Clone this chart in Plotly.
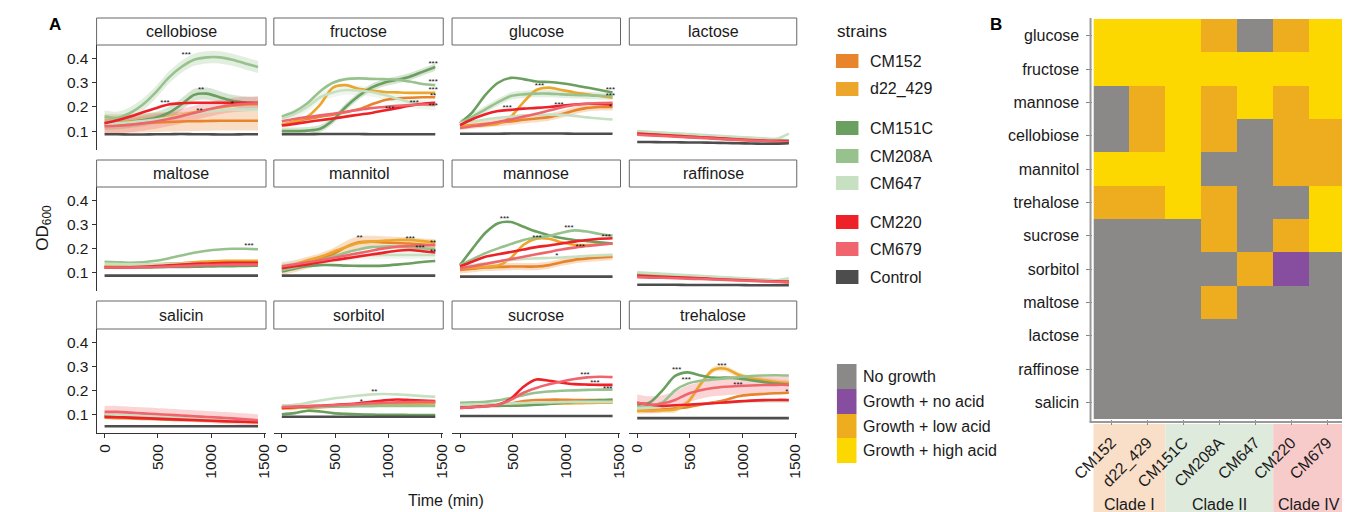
import plotly.graph_objects as go

# ---------------- DATA ----------------
TIME = [0, 120, 240, 360, 480, 600, 720, 840, 960, 1080, 1200, 1320, 1440]
STRAINS = ["CM152", "d22_429", "CM151C", "CM208A", "CM647", "CM220", "CM679", "Control"]
STRAIN_COLORS = ["#E8842C", "#EBA62B", "#6A9F5F", "#98C28D", "#C8E0C2", "#EE2129", "#F0656D", "#4D4D4D"]
PANEL_SUGARS = ["cellobiose", "fructose", "glucose", "lactose",
                "maltose", "mannitol", "mannose", "raffinose",
                "salicin", "sorbitol", "sucrose", "trehalose"]

cellobiose = [
    [0.13, 0.13, 0.132, 0.134, 0.136, 0.138, 0.14, 0.141, 0.142, 0.143, 0.143, 0.143, 0.143],
    [0.135, 0.137, 0.14, 0.145, 0.15, 0.158, 0.168, 0.178, 0.188, 0.198, 0.205, 0.21, 0.21],
    [0.13, 0.133, 0.138, 0.145, 0.155, 0.175, 0.21, 0.25, 0.255, 0.24, 0.225, 0.218, 0.215],
    [0.16, 0.155, 0.175, 0.21, 0.26, 0.32, 0.365, 0.395, 0.405, 0.405, 0.395, 0.38, 0.365],
    [0.13, 0.132, 0.137, 0.142, 0.148, 0.155, 0.165, 0.172, 0.18, 0.185, 0.19, 0.19, 0.19],
    [0.133, 0.145, 0.16, 0.178, 0.195, 0.21, 0.215, 0.217, 0.217, 0.217, 0.217, 0.217, 0.217],
    [0.12, 0.122, 0.126, 0.132, 0.14, 0.15, 0.162, 0.175, 0.188, 0.2, 0.208, 0.212, 0.215],
    [0.087, 0.087, 0.086, 0.086, 0.087, 0.087, 0.088, 0.087, 0.087, 0.086, 0.086, 0.087, 0.087],
]
fructose = [
    [0.125, 0.14, 0.15, 0.16, 0.168, 0.178, 0.19, 0.21, 0.228, 0.235, 0.238, 0.24, 0.24],
    [0.125, 0.14, 0.16, 0.21, 0.28, 0.29, 0.275, 0.268, 0.262, 0.26, 0.258, 0.258, 0.258],
    [0.1, 0.1, 0.102, 0.11, 0.145, 0.2, 0.245, 0.28, 0.3, 0.312, 0.325, 0.345, 0.365],
    [0.16, 0.18, 0.215, 0.265, 0.3, 0.315, 0.318, 0.316, 0.315, 0.313, 0.305, 0.295, 0.29],
    [0.15, 0.17, 0.2, 0.24, 0.26, 0.27, 0.268, 0.262, 0.25, 0.235, 0.22, 0.21, 0.205],
    [0.123, 0.13, 0.138, 0.145, 0.152, 0.16, 0.168, 0.175, 0.185, 0.195, 0.205, 0.213, 0.217],
    [0.14, 0.15, 0.158, 0.165, 0.172, 0.18, 0.188, 0.195, 0.2, 0.205, 0.208, 0.21, 0.21],
    [0.087, 0.087, 0.087, 0.088, 0.088, 0.088, 0.088, 0.087, 0.087, 0.087, 0.087, 0.087, 0.087],
]
glucose = [
    [0.12, 0.125, 0.13, 0.135, 0.14, 0.147, 0.152, 0.158, 0.17, 0.185, 0.196, 0.2, 0.2],
    [0.12, 0.122, 0.125, 0.13, 0.16, 0.22, 0.27, 0.28, 0.27, 0.26, 0.252, 0.245, 0.238],
    [0.133, 0.18, 0.25, 0.3, 0.32, 0.315, 0.305, 0.303, 0.298, 0.29, 0.28, 0.27, 0.26],
    [0.133, 0.16, 0.19, 0.22, 0.245, 0.252, 0.255, 0.255, 0.252, 0.25, 0.248, 0.246, 0.245],
    [0.133, 0.14, 0.148, 0.155, 0.16, 0.165, 0.167, 0.168, 0.167, 0.163, 0.157, 0.152, 0.148],
    [0.125, 0.15, 0.17, 0.183, 0.188, 0.193, 0.196, 0.2, 0.205, 0.21, 0.213, 0.212, 0.21],
    [0.113, 0.12, 0.128, 0.138, 0.148, 0.16, 0.172, 0.185, 0.198, 0.208, 0.213, 0.216, 0.217],
    [0.089, 0.089, 0.089, 0.089, 0.09, 0.09, 0.09, 0.09, 0.09, 0.089, 0.089, 0.089, 0.089],
]
lactose = [
    [0.09, 0.087, 0.084, 0.081, 0.078, 0.075, 0.072, 0.069, 0.066, 0.063, 0.06, 0.058, 0.056],
    [0.088, 0.085, 0.082, 0.079, 0.076, 0.073, 0.07, 0.067, 0.064, 0.061, 0.059, 0.057, 0.055],
    [0.095, 0.092, 0.089, 0.086, 0.083, 0.08, 0.077, 0.074, 0.071, 0.068, 0.065, 0.062, 0.06],
    [0.097, 0.094, 0.091, 0.088, 0.085, 0.082, 0.079, 0.076, 0.073, 0.07, 0.067, 0.064, 0.062],
    [0.1, 0.097, 0.094, 0.091, 0.088, 0.085, 0.082, 0.079, 0.076, 0.073, 0.07, 0.068, 0.09],
    [0.09, 0.087, 0.084, 0.081, 0.078, 0.075, 0.072, 0.069, 0.066, 0.063, 0.061, 0.06, 0.058],
    [0.085, 0.082, 0.08, 0.077, 0.074, 0.072, 0.069, 0.066, 0.064, 0.061, 0.059, 0.057, 0.055],
    [0.055, 0.055, 0.054, 0.054, 0.053, 0.053, 0.052, 0.051, 0.05, 0.049, 0.048, 0.048, 0.05],
]
maltose = [
    [0.125, 0.126, 0.128, 0.13, 0.133, 0.136, 0.138, 0.14, 0.141, 0.142, 0.142, 0.142, 0.142],
    [0.125, 0.126, 0.127, 0.129, 0.132, 0.135, 0.138, 0.142, 0.145, 0.147, 0.148, 0.148, 0.148],
    [0.12, 0.12, 0.12, 0.12, 0.121, 0.122, 0.122, 0.123, 0.124, 0.125, 0.126, 0.127, 0.128],
    [0.144, 0.142, 0.14, 0.142, 0.148, 0.158, 0.17, 0.182, 0.19, 0.195, 0.198, 0.198, 0.196],
    [0.135, 0.134, 0.133, 0.133, 0.134, 0.135, 0.136, 0.137, 0.137, 0.137, 0.137, 0.137, 0.137],
    [0.12, 0.12, 0.121, 0.123, 0.126, 0.129, 0.132, 0.135, 0.137, 0.139, 0.14, 0.14, 0.14],
    [0.12, 0.12, 0.12, 0.121, 0.122, 0.124, 0.126, 0.128, 0.13, 0.131, 0.132, 0.132, 0.132],
    [0.086, 0.086, 0.086, 0.086, 0.086, 0.086, 0.086, 0.086, 0.086, 0.086, 0.086, 0.086, 0.086],
]
mannitol = [
    [0.115, 0.125, 0.14, 0.155, 0.175, 0.205, 0.225, 0.228, 0.225, 0.222, 0.22, 0.216, 0.214],
    [0.124, 0.135, 0.15, 0.165, 0.185, 0.205, 0.222, 0.228, 0.232, 0.235, 0.235, 0.23, 0.224],
    [0.103, 0.115, 0.125, 0.13, 0.13, 0.128, 0.127, 0.127, 0.128, 0.132, 0.137, 0.143, 0.147],
    [0.11, 0.12, 0.135, 0.15, 0.165, 0.182, 0.195, 0.205, 0.208, 0.208, 0.205, 0.2, 0.198],
    [0.13, 0.135, 0.14, 0.148, 0.155, 0.162, 0.168, 0.171, 0.172, 0.172, 0.172, 0.172, 0.172],
    [0.117, 0.125, 0.133, 0.142, 0.15, 0.158, 0.166, 0.174, 0.182, 0.19, 0.193, 0.188, 0.183],
    [0.125, 0.133, 0.142, 0.15, 0.16, 0.17, 0.18, 0.19, 0.2, 0.207, 0.21, 0.212, 0.214],
    [0.086, 0.086, 0.086, 0.086, 0.086, 0.086, 0.086, 0.086, 0.086, 0.086, 0.086, 0.086, 0.086],
]
mannose = [
    [0.11, 0.115, 0.12, 0.122, 0.124, 0.124, 0.124, 0.13, 0.142, 0.152, 0.158, 0.162, 0.165],
    [0.117, 0.12, 0.123, 0.128, 0.16, 0.215, 0.24, 0.24, 0.225, 0.214, 0.214, 0.217, 0.22],
    [0.13, 0.2, 0.265, 0.305, 0.31, 0.29, 0.27, 0.255, 0.243, 0.235, 0.23, 0.225, 0.22],
    [0.13, 0.155, 0.18, 0.2, 0.218, 0.235, 0.245, 0.252, 0.265, 0.275, 0.27, 0.26, 0.253],
    [0.124, 0.13, 0.138, 0.145, 0.152, 0.156, 0.158, 0.16, 0.162, 0.165, 0.168, 0.17, 0.172],
    [0.124, 0.145, 0.165, 0.175, 0.185, 0.195, 0.205, 0.212, 0.22, 0.228, 0.235, 0.24, 0.242],
    [0.117, 0.125, 0.135, 0.145, 0.155, 0.165, 0.175, 0.185, 0.195, 0.203, 0.21, 0.215, 0.22],
    [0.082, 0.082, 0.082, 0.082, 0.082, 0.082, 0.082, 0.082, 0.082, 0.082, 0.082, 0.082, 0.082],
]
raffinose = [
    [0.088, 0.086, 0.083, 0.081, 0.079, 0.077, 0.074, 0.072, 0.07, 0.067, 0.065, 0.062, 0.06],
    [0.09, 0.087, 0.085, 0.082, 0.08, 0.077, 0.075, 0.072, 0.07, 0.067, 0.065, 0.062, 0.06],
    [0.092, 0.089, 0.087, 0.084, 0.082, 0.079, 0.077, 0.074, 0.072, 0.069, 0.067, 0.064, 0.062],
    [0.096, 0.093, 0.09, 0.088, 0.085, 0.082, 0.079, 0.077, 0.074, 0.071, 0.069, 0.066, 0.064],
    [0.1, 0.097, 0.094, 0.091, 0.088, 0.085, 0.082, 0.079, 0.076, 0.073, 0.07, 0.067, 0.075],
    [0.085, 0.083, 0.081, 0.079, 0.077, 0.075, 0.072, 0.07, 0.068, 0.066, 0.064, 0.062, 0.06],
    [0.08, 0.078, 0.077, 0.075, 0.073, 0.072, 0.07, 0.068, 0.066, 0.064, 0.062, 0.06, 0.058],
    [0.048, 0.048, 0.048, 0.048, 0.047, 0.047, 0.047, 0.047, 0.047, 0.046, 0.046, 0.046, 0.046],
]
salicin = [
    [0.086, 0.084, 0.083, 0.081, 0.08, 0.078, 0.076, 0.075, 0.073, 0.071, 0.07, 0.068, 0.066],
    [0.09, 0.088, 0.086, 0.084, 0.083, 0.081, 0.079, 0.077, 0.075, 0.073, 0.071, 0.07, 0.068],
    [0.095, 0.093, 0.091, 0.089, 0.087, 0.085, 0.083, 0.081, 0.079, 0.077, 0.075, 0.072, 0.07],
    [0.097, 0.095, 0.093, 0.091, 0.089, 0.087, 0.085, 0.083, 0.081, 0.079, 0.077, 0.074, 0.072],
    [0.1, 0.098, 0.096, 0.093, 0.091, 0.089, 0.086, 0.084, 0.082, 0.079, 0.077, 0.074, 0.072],
    [0.09, 0.088, 0.086, 0.084, 0.082, 0.08, 0.078, 0.076, 0.074, 0.072, 0.07, 0.069, 0.068],
    [0.11, 0.11, 0.107, 0.104, 0.101, 0.098, 0.095, 0.092, 0.089, 0.086, 0.083, 0.079, 0.075],
    [0.05, 0.05, 0.05, 0.05, 0.05, 0.05, 0.05, 0.05, 0.05, 0.05, 0.05, 0.05, 0.05],
]
sorbitol = [
    [0.125, 0.127, 0.13, 0.132, 0.134, 0.136, 0.138, 0.14, 0.142, 0.144, 0.146, 0.148, 0.15],
    [0.125, 0.127, 0.128, 0.13, 0.132, 0.134, 0.136, 0.138, 0.14, 0.142, 0.143, 0.144, 0.145],
    [0.1, 0.105, 0.115, 0.112, 0.105, 0.102, 0.1, 0.099, 0.098, 0.098, 0.097, 0.097, 0.097],
    [0.13, 0.13, 0.13, 0.131, 0.132, 0.133, 0.134, 0.134, 0.135, 0.135, 0.135, 0.135, 0.135],
    [0.138, 0.14, 0.148, 0.158, 0.166, 0.172, 0.178, 0.183, 0.185, 0.183, 0.18, 0.176, 0.173],
    [0.127, 0.13, 0.133, 0.136, 0.139, 0.142, 0.146, 0.152, 0.158, 0.162, 0.16, 0.157, 0.155],
    [0.13, 0.132, 0.134, 0.136, 0.138, 0.14, 0.143, 0.146, 0.148, 0.15, 0.151, 0.152, 0.152],
    [0.09, 0.09, 0.09, 0.09, 0.09, 0.09, 0.09, 0.09, 0.09, 0.09, 0.09, 0.09, 0.09],
]
sucrose = [
    [0.134, 0.136, 0.138, 0.14, 0.145, 0.155, 0.16, 0.161, 0.161, 0.16, 0.16, 0.159, 0.159],
    [0.134, 0.135, 0.136, 0.137, 0.138, 0.14, 0.142, 0.144, 0.145, 0.146, 0.147, 0.148, 0.148],
    [0.133, 0.133, 0.134, 0.135, 0.136, 0.137, 0.14, 0.143, 0.147, 0.152, 0.156, 0.16, 0.162],
    [0.148, 0.15, 0.152, 0.158, 0.168, 0.18, 0.19, 0.195, 0.198, 0.2, 0.202, 0.203, 0.203],
    [0.14, 0.141, 0.142, 0.143, 0.145, 0.147, 0.149, 0.15, 0.151, 0.152, 0.152, 0.152, 0.152],
    [0.127, 0.13, 0.135, 0.14, 0.165, 0.215, 0.245, 0.24, 0.232, 0.226, 0.224, 0.223, 0.223],
    [0.127, 0.13, 0.133, 0.14, 0.16, 0.19, 0.21, 0.225, 0.237, 0.247, 0.254, 0.257, 0.255],
    [0.093, 0.093, 0.093, 0.093, 0.093, 0.093, 0.093, 0.093, 0.093, 0.093, 0.093, 0.093, 0.093],
]
trehalose = [
    [0.114, 0.116, 0.12, 0.125, 0.13, 0.14, 0.15, 0.16, 0.175, 0.182, 0.185, 0.188, 0.19],
    [0.114, 0.115, 0.117, 0.12, 0.15, 0.225, 0.285, 0.29, 0.265, 0.25, 0.242, 0.235, 0.23],
    [0.14, 0.15, 0.2, 0.26, 0.275, 0.262, 0.253, 0.253, 0.25, 0.242, 0.235, 0.228, 0.223],
    [0.13, 0.135, 0.15, 0.2, 0.228, 0.24, 0.245, 0.25, 0.255, 0.26, 0.262, 0.263, 0.262],
    [0.125, 0.128, 0.132, 0.136, 0.14, 0.144, 0.147, 0.15, 0.152, 0.154, 0.155, 0.155, 0.155],
    [0.148, 0.14, 0.135, 0.138, 0.14, 0.143, 0.146, 0.15, 0.154, 0.157, 0.159, 0.16, 0.16],
    [0.148, 0.14, 0.145, 0.16, 0.185, 0.2, 0.21, 0.215, 0.218, 0.22, 0.222, 0.223, 0.223],
    [0.084, 0.084, 0.084, 0.084, 0.084, 0.084, 0.084, 0.084, 0.084, 0.084, 0.084, 0.084, 0.084],
]
OD_BY_SUGAR = {
    "cellobiose": cellobiose, "fructose": fructose, "glucose": glucose, "lactose": lactose,
    "maltose": maltose, "mannitol": mannitol, "mannose": mannose, "raffinose": raffinose,
    "salicin": salicin, "sorbitol": sorbitol, "sucrose": sucrose, "trehalose": trehalose,
}

# standard deviation bands (sugar, strain, sd)
ERROR_SD = [
    ("cellobiose", "CM208A", 0.025), ("cellobiose", "CM152", 0.04), ("cellobiose", "CM151C", 0.025),
    ("cellobiose", "CM679", 0.03), ("fructose", "CM647", 0.02), ("fructose", "CM151C", 0.015),
    ("glucose", "CM208A", 0.015), ("glucose", "CM152", 0.015), ("mannitol", "CM152", 0.025),
    ("mannitol", "CM647", 0.015), ("mannose", "CM152", 0.015), ("salicin", "CM679", 0.025),
    ("trehalose", "CM679", 0.035), ("trehalose", "d22_429", 0.012),
]

# significance labels (sugar, time, od, label)
SIG_MARKS = [
    ("cellobiose", 767, 0.415, "***"), ("cellobiose", 905, 0.268, "**"), ("cellobiose", 567, 0.218, "***"),
    ("cellobiose", 890, 0.183, "**"), ("cellobiose", 1196, 0.214, "*"),
    ("fructose", 1420, 0.378, "***"), ("fructose", 1420, 0.302, "***"), ("fructose", 1420, 0.272, "***"),
    ("fructose", 1420, 0.244, "**"), ("fructose", 1420, 0.203, "***"), ("fructose", 1012, 0.19, "***"),
    ("fructose", 1242, 0.218, "***"),
    ("glucose", 445, 0.195, "***"), ("glucose", 750, 0.285, "***"), ("glucose", 935, 0.208, "***"),
    ("glucose", 1420, 0.272, "***"), ("glucose", 1420, 0.244, "***"), ("glucose", 1420, 0.2, "*"),
    ("maltose", 1355, 0.208, "***"),
    ("mannitol", 730, 0.243, "**"), ("mannitol", 1205, 0.237, "***"), ("mannitol", 1297, 0.2, "***"),
    ("mannitol", 1420, 0.222, "**"), ("mannitol", 1420, 0.185, "**"),
    ("mannose", 420, 0.322, "***"), ("mannose", 1028, 0.285, "***"), ("mannose", 727, 0.245, "***"),
    ("mannose", 1135, 0.207, "***"), ("mannose", 1380, 0.247, "***"), ("mannose", 914, 0.167, "*"),
    ("sorbitol", 868, 0.192, "**"), ("sorbitol", 745, 0.152, "*"),
    ("sucrose", 1180, 0.263, "***"), ("sucrose", 1273, 0.23, "***"), ("sucrose", 1395, 0.207, "***"),
    ("trehalose", 374, 0.283, "***"), ("trehalose", 466, 0.242, "***"), ("trehalose", 804, 0.3, "***"),
    ("trehalose", 957, 0.222, "***"), ("trehalose", 1420, 0.193, "*"),
]

X_TICKS = [0, 500, 1000, 1500]
Y_TICKS = [0.1, 0.2, 0.3, 0.4]

# heatmap (panel B)
HEAT_SUGARS = ["glucose", "fructose", "mannose", "cellobiose", "mannitol", "trehalose",
               "sucrose", "sorbitol", "maltose", "lactose", "raffinose", "salicin"]
HEAT_STRAINS = ["CM152", "d22_429", "CM151C", "CM208A", "CM647", "CM220", "CM679"]
# 0 = No growth, 1 = Growth + no acid, 2 = Growth + low acid, 3 = Growth + high acid
HEAT_CODES = [
    [3, 3, 3, 2, 0, 2, 3],
    [3, 3, 3, 3, 3, 3, 3],
    [0, 2, 3, 2, 3, 2, 3],
    [0, 2, 3, 2, 0, 2, 2],
    [3, 3, 3, 0, 0, 2, 2],
    [2, 2, 3, 2, 0, 0, 3],
    [0, 0, 0, 2, 0, 2, 3],
    [0, 0, 0, 0, 2, 1, 0],
    [0, 0, 0, 2, 0, 0, 0],
    [0, 0, 0, 0, 0, 0, 0],
    [0, 0, 0, 0, 0, 0, 0],
    [0, 0, 0, 0, 0, 0, 0],
]
GROWTH_LABELS = ["No growth", "Growth + no acid", "Growth + low acid", "Growth + high acid"]
GROWTH_COLORS = ["#8A8988", "#874D9E", "#EEAC1F", "#FDD700"]
CLADES = ["Clade I", "Clade II", "Clade IV"]
CLADE_SIZES = [2, 3, 2]
CLADE_COLORS = ["#F9DFC8", "#DEEADC", "#F8CBCB"]

# ---------------- LAYOUT GEOMETRY ----------------
W, H = 1350, 512
FONT = "Arial, Liberation Sans, sans-serif"
TXT = "#1a1a1a"


def fx(x):
    return x / W


def fy(y):
    return 1 - y / H


COL_X = [(68, 241), (249, 422), (431, 603), (612, 783)]
ROW_Y = [(37, 142), (179, 283), (321, 425)]
STRIP_Y = [(10, 37), (152, 179), (293, 321)]
X_RANGE = [-75, 1515]
Y_RANGE = [0.022, 0.456]


def rgba(hexc, a):
    h = hexc.lstrip("#")
    return "rgba(%d,%d,%d,%.2f)" % (int(h[0:2], 16), int(h[2:4], 16), int(h[4:6], 16), a)


fig = go.Figure()
layout = dict(
    width=W, height=H, margin=dict(l=0, r=0, t=0, b=0),
    paper_bgcolor="white", plot_bgcolor="rgba(0,0,0,0)",
    showlegend=False, font=dict(family=FONT, size=15, color=TXT),
)
shapes = []
annotations = []

sd_lookup = {(s, k): v for s, k, v in ERROR_SD}

for i, sugar in enumerate(PANEL_SUGARS):
    r, c = divmod(i, 4)
    n = i + 1
    xr = "x" if n == 1 else "x%d" % n
    yr = "y" if n == 1 else "y%d" % n
    bottom = r == 2
    left = c == 0
    xa = dict(
        domain=[fx(COL_X[c][0]), fx(COL_X[c][1])], anchor=yr, range=X_RANGE,
        showgrid=False, zeroline=False, showline=bottom, linecolor="#333", linewidth=1,
        showticklabels=bottom,
    )
    if bottom:
        xa.update(ticks="outside", ticklen=4, tickcolor="#333", tickvals=X_TICKS,
                  tickangle=-90, tickfont=dict(size=15.5, color=TXT, family=FONT))
    else:
        xa.update(ticks="", showticklabels=False)
    layout["xaxis" if n == 1 else "xaxis%d" % n] = xa
    ya = dict(
        domain=[fy(ROW_Y[r][1]), fy(ROW_Y[r][0])], anchor=xr, range=Y_RANGE,
        showgrid=False, zeroline=False, showline=left, linecolor="#333", linewidth=1,
        showticklabels=left,
    )
    if left:
        ya.update(ticks="outside", ticklen=4, tickcolor="#333", tickvals=Y_TICKS,
                  tickfont=dict(size=15.5, color=TXT, family=FONT))
    else:
        ya.update(ticks="", showticklabels=False)
    layout["yaxis" if n == 1 else "yaxis%d" % n] = ya
    # strip
    shapes.append(dict(type="rect", xref="paper", yref="paper",
                       x0=fx(COL_X[c][0]), x1=fx(COL_X[c][1]),
                       y0=fy(STRIP_Y[r][1]), y1=fy(STRIP_Y[r][0]),
                       line=dict(color="#666", width=1), fillcolor="white"))
    annotations.append(dict(text=sugar, xref="paper", yref="paper",
                            x=fx((COL_X[c][0] + COL_X[c][1]) / 2),
                            y=fy((STRIP_Y[r][0] + STRIP_Y[r][1]) / 2),
                            showarrow=False, xanchor="center", yanchor="middle",
                            font=dict(size=16, color=TXT, family=FONT)))
    series = OD_BY_SUGAR[sugar]
    # error bands
    for k, strain in enumerate(STRAINS):
        sd = sd_lookup.get((sugar, strain))
        if sd is None:
            continue
        vals = series[k]
        fig.add_trace(go.Scatter(x=TIME, y=[v + sd for v in vals], xaxis=xr, yaxis=yr,
                                 mode="lines", line=dict(width=0, shape="spline", smoothing=0.8),
                                 hoverinfo="skip"))
        fig.add_trace(go.Scatter(x=TIME, y=[v - sd for v in vals], xaxis=xr, yaxis=yr,
                                 mode="lines", line=dict(width=0, shape="spline", smoothing=0.8),
                                 fill="tonexty", fillcolor=rgba(STRAIN_COLORS[k], 0.28),
                                 hoverinfo="skip"))
    for k, strain in enumerate(STRAINS):
        fig.add_trace(go.Scatter(x=TIME, y=series[k], xaxis=xr, yaxis=yr, mode="lines",
                                 name=strain,
                                 line=dict(color=STRAIN_COLORS[k], width=2.6,
                                           shape="spline", smoothing=0.8)))
    marks = [m for m in SIG_MARKS if m[0] == sugar]
    if marks:
        fig.add_trace(go.Scatter(x=[m[1] for m in marks], y=[m[2] for m in marks],
                                 xaxis=xr, yaxis=yr, mode="text",
                                 text=[m[3] for m in marks],
                                 textfont=dict(size=8, color="#111", family=FONT),
                                 textposition="middle center", hoverinfo="skip"))

# ---------------- HEATMAP (B) ----------------
HX = (1086, 1343)
HY = (11, 411)
fig.add_trace(go.Heatmap(
    z=HEAT_CODES, x=HEAT_STRAINS, y=HEAT_SUGARS, xaxis="x13", yaxis="y13",
    zmin=-0.5, zmax=3.5, showscale=False,
    colorscale=[[0, GROWTH_COLORS[0]], [0.25, GROWTH_COLORS[0]],
                [0.25, GROWTH_COLORS[1]], [0.5, GROWTH_COLORS[1]],
                [0.5, GROWTH_COLORS[2]], [0.75, GROWTH_COLORS[2]],
                [0.75, GROWTH_COLORS[3]], [1, GROWTH_COLORS[3]]],
    xgap=0, ygap=0, hoverinfo="skip"))
layout["xaxis13"] = dict(domain=[fx(HX[0]), fx(HX[1])], anchor="y13", type="category",
                         showgrid=False, zeroline=False, ticks="outside", ticklen=5,
                         tickcolor="#888", tickangle=-45, ticklabelstandoff=2,
                         tickfont=dict(size=16, color=TXT, family=FONT))
layout["yaxis13"] = dict(domain=[fy(HY[1]), fy(HY[0])], anchor="x13", type="category",
                         autorange="reversed", showgrid=False, zeroline=False,
                         ticks="outside", ticklen=6, tickcolor="#888", ticklabelstandoff=4,
                         tickfont=dict(size=16, color=TXT, family=FONT))
# axis lines of B
shapes.append(dict(type="line", xref="paper", yref="paper", x0=fx(1083), x1=fx(1083),
                   y0=fy(10), y1=fy(414), line=dict(color="#999", width=2)))
shapes.append(dict(type="line", xref="paper", yref="paper", x0=fx(1082), x1=fx(1344),
                   y0=fy(414), y1=fy(414), line=dict(color="#999", width=2)))
# clade bands
cell_w = (HX[1] - HX[0]) / len(HEAT_STRAINS)
start = 0
for name, size, col in zip(CLADES, CLADE_SIZES, CLADE_COLORS):
    x0 = HX[0] + start * cell_w
    x1 = HX[0] + (start + size) * cell_w
    shapes.append(dict(type="rect", xref="paper", yref="paper", layer="below",
                       x0=fx(x0), x1=fx(x1), y0=fy(507), y1=fy(416),
                       line=dict(width=0), fillcolor=col))
    annotations.append(dict(text=name, xref="paper", yref="paper",
                            x=fx((x0 + x1) / 2), y=fy(496), showarrow=False,
                            xanchor="center", yanchor="middle",
                            font=dict(size=16, color=TXT, family=FONT)))
    start += size

# ---------------- LEGENDS ----------------
annotations.append(dict(text="strains", xref="paper", yref="paper", x=fx(822), y=fy(23),
                        showarrow=False, xanchor="left", yanchor="middle",
                        font=dict(size=17, color=TXT, family=FONT)))
LEG_Y = [53, 81, 120, 148, 175, 214, 241, 269]
for strain, col, yc in zip(STRAINS, STRAIN_COLORS, LEG_Y):
    shapes.append(dict(type="rect", xref="paper", yref="paper",
                       x0=fx(823), x1=fx(846), y0=fy(yc + 7), y1=fy(yc - 7),
                       line=dict(width=0), fillcolor=col))
    annotations.append(dict(text=strain, xref="paper", yref="paper", x=fx(856), y=fy(yc),
                            showarrow=False, xanchor="left", yanchor="middle",
                            font=dict(size=16, color=TXT, family=FONT)))
G_Y = [(356, 381), (381, 406), (406, 430), (430, 455)]
for lab, col, (y0, y1) in zip(GROWTH_LABELS, GROWTH_COLORS, G_Y):
    shapes.append(dict(type="rect", xref="paper", yref="paper",
                       x0=fx(824), x1=fx(844), y0=fy(y1), y1=fy(y0),
                       line=dict(width=0), fillcolor=col))
    annotations.append(dict(text=lab, xref="paper", yref="paper", x=fx(849),
                            y=fy((y0 + y1) / 2), showarrow=False, xanchor="left",
                            yanchor="middle", font=dict(size=16, color=TXT, family=FONT)))

# titles and panel letters
annotations.append(dict(text="Time (min)", xref="paper", yref="paper", x=fx(425), y=fy(492),
                        showarrow=False, xanchor="center", yanchor="middle",
                        font=dict(size=16, color=TXT, family=FONT)))
annotations.append(dict(text="OD<sub>600</sub>", xref="paper", yref="paper", x=fx(14),
                        y=fy(220), showarrow=False, xanchor="center", yanchor="middle",
                        textangle=-90, font=dict(size=17, color=TXT, family=FONT)))
annotations.append(dict(text="<b>A</b>", xref="paper", yref="paper", x=fx(26), y=fy(16),
                        showarrow=False, xanchor="center", yanchor="middle",
                        font=dict(size=17, color="black", family=FONT)))
annotations.append(dict(text="<b>B</b>", xref="paper", yref="paper", x=fx(986), y=fy(16),
                        showarrow=False, xanchor="center", yanchor="middle",
                        font=dict(size=17, color="black", family=FONT)))

layout["shapes"] = shapes
layout["annotations"] = annotations
fig.update_layout(**layout)
fig.write_html("out.html")
